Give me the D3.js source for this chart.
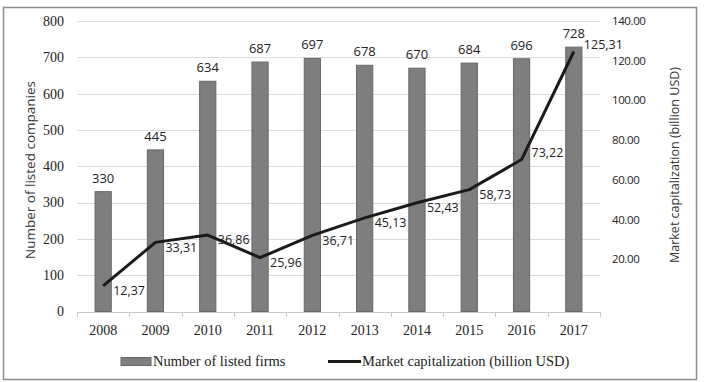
<!DOCTYPE html>
<html><head><meta charset="utf-8">
<script src="https://cdn.jsdelivr.net/npm/d3@7"></script>
<style>body{margin:0;background:#fff}svg{display:block}</style>
</head><body>
<script>
const years = ["2008","2009","2010","2011","2012","2013","2014","2015","2016","2017"];
const listedFirms = [330,445,634,687,697,678,670,684,696,728];
const marketCap = [12.37,33.31,36.86,25.96,36.71,45.13,52.43,58.73,73.22,125.31];
const marketCapLabels = ["12,37","33,31","36,86","25,96","36,71","45,13","52,43","58,73","73,22","125,31"];
const leftTicks = [0,100,200,300,400,500,600,700,800];
const rightTicks = [20,40,60,80,100,120,140];

const W=708,H=382;
const svg=d3.select("body").append("svg").attr("width",W).attr("height",H);
svg.append("rect").attr("x",3.5).attr("y",7.5).attr("width",693).attr("height",372).attr("fill","#fff").attr("stroke","#8c8c8c").attr("stroke-width",1.5);

const x=d3.scaleBand().domain(years).range([77,600]).paddingInner(0.69).paddingOuter(0.345);
const xb=d3.scaleBand().domain(years).range([77,600]);
const y=d3.scaleLinear().domain([0,800]).range([311.5,21]);
const y2=d3.scaleLinear().domain([0,140]).range([311.5,21]);
const y2lab=d3.scaleLinear().domain([0,140]).range([299,21]);

// grid
svg.append("g").selectAll("line").data(leftTicks.filter(d=>d>0)).join("line")
 .attr("x1",77).attr("x2",600).attr("y1",d=>Math.round(y(d))+0.5).attr("y2",d=>Math.round(y(d))+0.5)
 .attr("stroke","#dcdcdc").attr("stroke-width",1);

// bars
svg.append("g").selectAll("rect").data(listedFirms).join("rect")
 .attr("x",(d,i)=>x(years[i])).attr("width",x.bandwidth())
 .attr("y",d=>y(d)).attr("height",d=>y(0)-y(d))
 .attr("fill","#7e7e7e").attr("stroke","#666").attr("stroke-width",1);

// x axis
const xa=svg.append("g").attr("transform","translate(0,312)");
xa.append("line").attr("x1",77).attr("x2",600).attr("y1",0.5).attr("y2",0.5).attr("stroke","#c8c8c8");
xa.selectAll("line.t").data(d3.range(years.length+1)).join("line").attr("class","t")
 .attr("x1",i=>Math.round(77+i*xb.step())+0.5).attr("x2",i=>Math.round(77+i*xb.step())+0.5)
 .attr("y1",0).attr("y2",5).attr("stroke","#c8c8c8");
xa.selectAll("text").data(years).join("text")
 .attr("x",d=>xb(d)+xb.bandwidth()/2).attr("y",23)
 .attr("text-anchor","middle").attr("font-family","Liberation Serif").attr("font-size",14).attr("fill","#222").text(d=>d);

// left ticks
svg.append("g").selectAll("text").data(leftTicks).join("text")
 .attr("x",64).attr("y",d=>y(d)).attr("dy","0.35em").attr("text-anchor","end")
 .attr("font-family","Liberation Serif").attr("font-size",14).attr("fill","#222").text(d=>d);

// right ticks
svg.append("g").selectAll("text").data(rightTicks).join("text")
 .attr("x",612).attr("y",d=>y2lab(d)).attr("dy","0.35em").attr("text-anchor","start")
 .attr("font-family","Open Sans").attr("font-size",11.5).attr("letter-spacing","-0.4").attr("fill","#222").text(d=>d.toFixed(2));

// axis titles
svg.append("text").attr("transform","translate(35,170) rotate(-90)").attr("text-anchor","middle")
 .attr("font-family","Open Sans").attr("font-size",13.5).attr("fill","#333").text("Number of listed companies");
svg.append("text").attr("transform","translate(679,165) rotate(-90)").attr("text-anchor","middle")
 .attr("font-family","Open Sans").attr("font-size",12.5).attr("fill","#333").text("Market capitalization (billion USD)");

// bar labels
svg.append("g").selectAll("text").data(listedFirms).join("text")
 .attr("x",(d,i)=>xb(years[i])+xb.bandwidth()/2).attr("y",d=>y(d)-9)
 .attr("text-anchor","middle").attr("font-family","Open Sans").attr("font-size",13).attr("fill","#222").text(d=>d);

// line
const line=d3.line().x((d,i)=>xb(years[i])+xb.bandwidth()/2).y(d=>y2(d));
svg.append("path").datum(marketCap).attr("d",line).attr("fill","none").attr("stroke","#1a1a1a").attr("stroke-width",3).attr("stroke-linejoin","round");

// line labels: to the right of each point; above it where the line climbs steeply next (or at the end)
const n=marketCap.length;
svg.append("g").selectAll("text").data(marketCap).join("text")
 .attr("x",(d,i)=>xb(years[i])+xb.bandwidth()/2+10)
 .attr("y",(d,i)=>y2(d)+((i===n-1||marketCap[i+1]-d>40)?-7:5)).attr("dy","0.35em")
 .attr("font-family","Open Sans").attr("font-size",12.5).attr("fill","#222").text((d,i)=>marketCapLabels[i]);

// legend
const lg=svg.append("g");
lg.append("rect").attr("x",121).attr("y",357.5).attr("width",30).attr("height",8).attr("fill","#7e7e7e").attr("stroke","#666");
lg.append("text").attr("x",153).attr("y",366).attr("font-family","Liberation Serif").attr("font-size",14.5).attr("fill","#222").text("Number of listed firms");
lg.append("line").attr("x1",328).attr("x2",361).attr("y1",361.5).attr("y2",361.5).attr("stroke","#1a1a1a").attr("stroke-width",3);
lg.append("text").attr("x",362).attr("y",366).attr("font-family","Liberation Serif").attr("font-size",14.5).attr("fill","#222").text("Market capitalization (billion USD)");
</script>
</body></html>
